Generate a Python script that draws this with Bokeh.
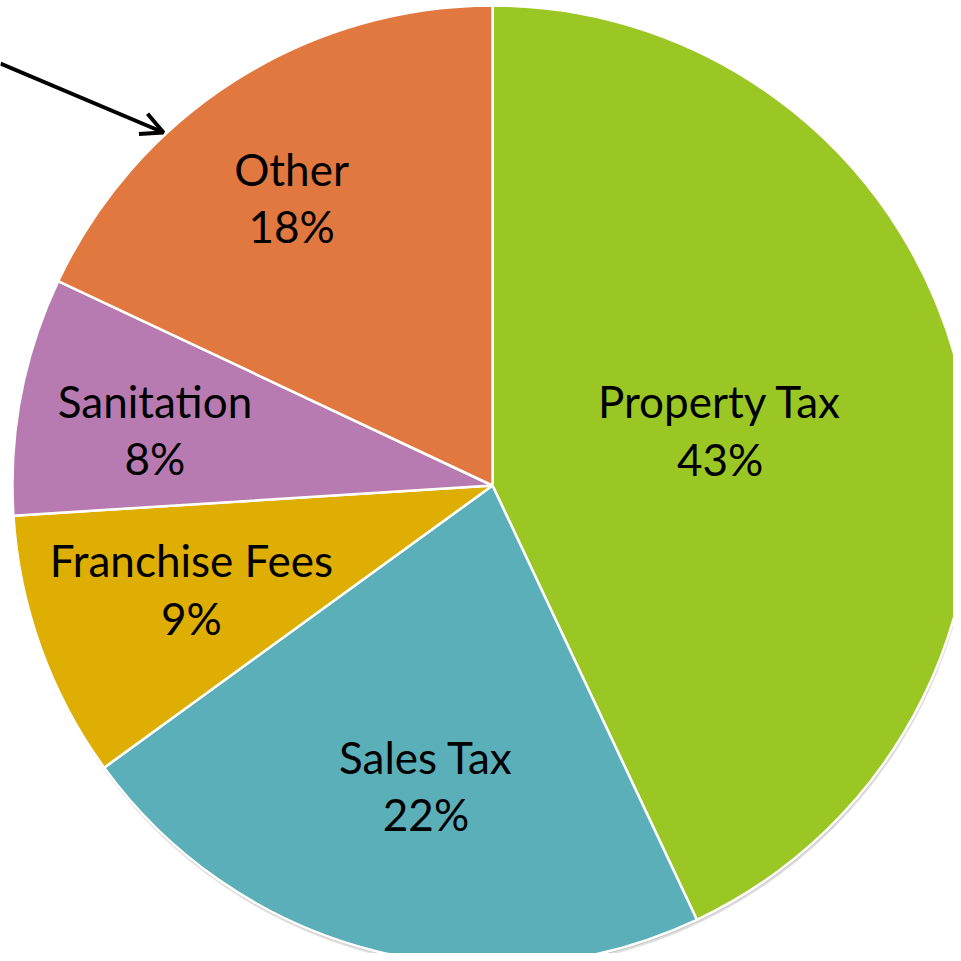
import math
from bokeh.plotting import figure
from bokeh.models import ColumnDataSource, Range1d, Arrow, OpenHead
from bokeh.core.properties import value
from bokeh.embed import file_html
from bokeh.resources import INLINE

# ---- data ----
categories = ["Property Tax", "Sales Tax", "Franchise Fees", "Sanitation", "Other"]
shares = [43, 22, 9, 8, 18]
colors = ["#9BC724", "#5BAFB9", "#DEAE02", "#B77BB2", "#E07840"]
# label placement: distance as fraction of radius, and angular nudge (degrees, clockwise)
label_radius = [0.487, 0.645, 0.665, 0.712, 0.728]
label_nudge = [-0.5, -2.0, 0.4, -1.8, -2.7]

R = 480.0
total = float(sum(shares))

starts, ends, lx, ly, texts = [], [], [], [], []
cum = 0.0
for cat, v, lr, nd in zip(categories, shares, label_radius, label_nudge):
    a0 = math.pi / 2 - 2 * math.pi * cum / total
    cum += v
    a1 = math.pi / 2 - 2 * math.pi * cum / total
    starts.append(a0)
    ends.append(a1)
    mid = (a0 + a1) / 2 - math.radians(nd)
    lx.append(R * lr * math.cos(mid))
    ly.append(R * lr * math.sin(mid) + 2.5)
    texts.append(f"{cat}\n{v}%")

src = ColumnDataSource(dict(start=starts, end=ends, color=colors, cat=categories))
lab = ColumnDataSource(dict(x=lx, y=ly, text=texts))

# canvas: pie centre at pixel (492, 485) of the picture
W = H = 953
CX, CY = 492, 485
p = figure(width=W, height=H, output_backend="svg", toolbar_location=None,
           x_range=Range1d(-CX, W - CX), y_range=Range1d(CY - H, CY),
           min_border=0, outline_line_color=None, background_fill_color="white")
p.axis.visible = False
p.grid.visible = False

# soft shadow
p.circle(x=[1], y=[-4], radius=R, fill_color="#7f7f7f", fill_alpha=0.25, line_color=None)
p.circle(x=[0.5], y=[-2], radius=R, fill_color="#7f7f7f", fill_alpha=0.35, line_color=None)

p.wedge(x=0, y=0, radius=R, start_angle="start", end_angle="end", direction="clock",
        fill_color="color", line_color="white", line_width=2.5, source=src)

p.text(x="x", y="y", text="text", source=lab, text_align="center", text_baseline="middle",
       text_font=value("Lato"), text_font_size="44px", text_color="black",
       text_line_height=1.1)

# arrow pointing to the "Other" slice
arrow_start = (0 - CX, CY - 63)
arrow_end = (163 - CX, CY - 132)
p.add_layout(Arrow(x_start=arrow_start[0], y_start=arrow_start[1],
                   x_end=arrow_end[0], y_end=arrow_end[1],
                   line_color="black", line_width=4,
                   end=OpenHead(size=22, line_width=4, line_color="black")))

open("out.html", "w").write(file_html(p, INLINE))
